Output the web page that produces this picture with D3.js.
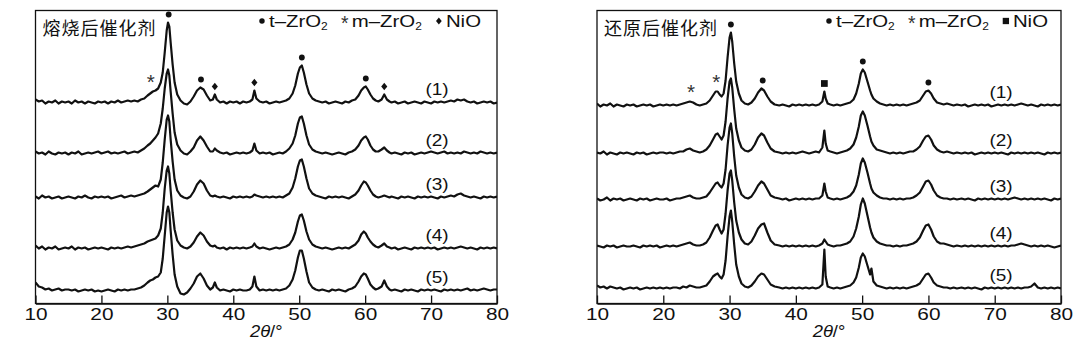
<!DOCTYPE html>
<html><head><meta charset="utf-8">
<script src="https://cdn.jsdelivr.net/npm/d3@7"></script>
<style>body{margin:0;background:#fff}svg{display:block}</style>
</head><body><svg id="c" width="1078" height="348"></svg>
<script>
// ---------- data (2θ grid and intensities above each pattern's baseline, a.u.) ----------
const anglesLeft = [
10,10.5,11,11.5,12,12.5,13,13.5,14,14.5,
15,15.5,16,16.5,17,17.5,18,18.5,19,19.5,
20,20.5,21,21.5,22,22.5,23,23.5,24,24.5,
25,25.5,26,26.5,27,27.4,27.8,28.2,28.6,29,
29.3,29.6,29.9,30.1,30.3,30.5,30.8,31.1,31.5,32,
32.5,33,33.5,34,34.5,35,35.5,36,36.5,36.9,
37.2,37.5,38,38.5,39,39.5,40,40.5,41,41.5,
42,42.5,42.9,43.2,43.5,44,44.5,45,45.5,46,
46.5,47,47.5,48,48.5,49,49.4,49.8,50.1,50.4,
50.7,51.1,51.5,52,52.5,53,53.5,54,54.5,55,
55.5,56,56.5,57,57.5,58,58.5,59,59.4,59.8,
60.1,60.4,60.8,61.2,61.6,62,62.5,62.9,63.3,63.7,
64,64.5,65,65.5,66,66.5,67,67.5,68,68.5,
69,69.5,70,70.5,71,71.5,72,72.5,73,73.5,
74,74.5,75,75.5,76,76.5,77,77.5,78,78.5,
79,79.5,80];
const calcined1 = [
3,1,2,-1,1,0,2,-1,1,0,
1,-1,2,0,1,-1,1,0,-1,1,
0,1,-1,1,0,2,0,1,2,1,
2,1,3,4,7,9,11,12,14,20,
30,50,72,80,76,60,38,20,8,2,
-1,-2,1,6,12,15,13,7,2,3,
8,3,0,1,-1,1,0,1,-1,1,
0,1,3,12,4,1,0,1,-1,0,
1,0,1,2,4,9,17,29,35,37,
30,18,9,4,2,1,0,1,-1,0,
1,0,-1,1,0,2,3,7,12,15,
16,13,8,4,2,1,3,8,3,1,
0,1,-1,0,1,-1,0,1,0,-1,
1,0,-1,1,0,1,0,1,2,1,
3,2,3,1,0,1,-1,0,1,0,
1,-1,0];
const calcined2 = [
2,0,1,-1,2,0,-1,1,0,1,
-1,1,0,2,-1,0,1,0,1,2,
0,1,2,0,1,0,1,2,0,1,
2,1,3,5,8,10,13,16,20,30,
45,65,80,84,78,62,40,21,9,3,
0,-1,2,6,13,17,13,7,2,2,
5,3,1,0,1,-1,0,1,0,1,
0,1,3,10,3,0,1,0,1,-1,
0,1,0,2,5,10,18,30,36,37,
30,18,9,4,2,1,0,1,0,-1,
0,1,0,-1,1,2,4,8,13,16,
17,14,8,4,2,2,4,6,3,1,
0,1,0,-1,1,0,1,-1,0,1,
0,1,2,1,0,1,2,0,1,0,
1,0,2,1,0,1,0,2,1,0,
1,0,1];
const calcined3 = [
1,-1,2,0,1,-1,0,1,-1,0,
1,0,-1,1,0,2,0,-1,1,0,
1,0,1,-1,0,1,2,0,1,2,
1,2,3,4,6,8,10,12,11,18,
35,58,78,82,76,58,36,18,7,2,
0,-1,1,6,13,17,14,7,2,1,
2,1,0,1,0,-1,1,0,1,0,
1,0,1,3,2,1,0,1,0,1,
0,1,0,2,4,10,19,31,37,38,
31,19,9,4,2,1,0,-1,1,0,
1,0,1,0,-1,1,3,7,12,16,
15,12,7,3,1,0,1,2,1,0,
1,0,-1,1,0,1,0,-1,1,0,
1,0,1,0,-1,1,0,1,2,1,
3,4,2,1,0,1,0,-1,1,0,
1,0,1];
const calcined4 = [
3,0,2,-1,1,0,2,-1,0,1,
0,2,-1,1,0,1,-1,0,1,0,
1,0,-1,1,0,1,0,1,2,1,
2,3,4,5,7,8,9,10,13,20,
36,60,78,82,75,58,36,19,8,3,
1,0,2,6,12,16,13,7,3,2,
3,1,0,1,-1,1,0,1,0,1,
0,1,2,5,2,0,1,0,-1,0,
1,0,1,2,4,9,16,27,33,34,
28,17,9,4,2,1,0,1,0,-1,
0,1,0,1,0,2,4,8,14,17,
15,11,7,4,2,1,3,5,2,1,
0,1,-1,0,1,0,-1,1,0,1,
0,1,0,1,-1,0,1,0,1,0,
1,2,1,0,1,0,-1,1,0,1,
0,1,0];
const calcined5 = [
8,4,3,1,2,0,1,2,0,1,
1,0,1,-1,0,1,0,1,-1,0,
-1,0,1,0,-1,1,0,1,0,1,
1,2,3,5,8,10,11,13,14,18,
32,55,78,84,78,60,36,16,4,-3,
-4,-2,2,7,14,17,12,5,1,3,
8,3,0,1,0,-1,1,0,1,0,
0,1,4,14,4,0,1,0,1,0,
1,0,1,2,5,11,20,33,40,40,
32,19,8,3,1,0,1,0,-1,1,
0,1,0,-1,1,2,4,9,14,17,
16,12,6,3,1,2,4,10,4,1,
0,1,0,-1,1,0,1,0,-1,1,
0,1,0,1,0,-1,1,0,1,0,
1,0,1,2,0,1,0,1,2,1,
0,1,1];

const anglesRight = [
10,10.5,11,11.5,12,12.5,13,13.5,14,14.5,
15,15.5,16,16.5,17,17.5,18,18.5,19,19.5,
20,20.5,21,21.5,22,22.5,23,23.5,24,24.5,
25,25.5,26,26.5,27,27.5,27.9,28.2,28.5,28.8,
29.1,29.4,29.7,30,30.2,30.4,30.7,31,31.4,31.8,
32.3,32.8,33.3,33.8,34.3,34.8,35.2,35.7,36.2,36.8,
37.5,38,38.5,39,39.5,40,40.5,41,41.5,42,
42.5,43,43.5,44,44.3,44.5,44.8,45.2,45.7,46.2,
46.7,47.2,47.7,48.2,48.7,49.1,49.5,49.8,50.1,50.4,
50.8,51.2,51.4,51.7,52.2,52.7,53.2,53.7,54.2,54.7,
55.2,55.7,56.2,56.7,57.2,57.7,58.2,58.7,59.2,59.6,
60,60.4,60.8,61.3,61.8,62.3,62.8,63.3,63.8,64.3,
65,65.5,66,66.5,67,67.5,68,68.5,69,69.5,
70,70.5,71,71.5,72,72.5,73,73.5,74,74.5,
75,75.5,76,76.5,77,77.5,78,78.5,79,79.5,
80];
const reduced1 = [
2,-1,1,0,2,-1,1,0,-1,1,
0,1,-1,0,1,0,1,-1,0,1,
0,1,0,1,0,1,2,3,4,3,
1,0,1,2,5,10,14,14,11,9,
12,25,48,68,73,64,42,24,12,5,
2,1,3,7,13,17,15,9,4,1,
0,1,0,-1,1,0,1,0,1,0,
1,0,1,4,14,7,2,1,0,1,
0,1,2,3,6,12,22,32,36,33,
24,15,11,7,4,2,1,0,1,0,
1,0,1,0,1,2,3,5,10,14,
15,12,7,3,2,1,2,1,0,1,
0,1,-1,0,1,0,1,0,1,-1,
0,1,0,1,0,1,0,1,2,1,
0,1,0,-1,1,0,1,0,1,0,
1];
const reduced2 = [
1,0,2,-1,1,0,-1,1,0,1,
0,-1,1,0,1,-1,0,1,0,1,
1,0,1,0,1,2,2,4,5,3,
2,1,2,4,8,14,19,20,17,14,
18,32,55,72,75,66,44,25,13,6,
3,2,4,9,16,20,18,11,5,2,
1,0,1,0,1,0,1,2,1,0,
1,2,1,6,23,10,3,2,1,0,
1,2,3,5,9,16,27,38,42,38,
28,17,12,8,4,3,2,1,0,1,
0,1,0,1,2,2,4,7,13,17,
18,14,8,4,2,1,2,1,0,1,
0,1,0,1,-1,0,1,0,1,0,
1,0,1,0,-1,1,0,1,0,1,
0,1,0,1,0,-1,1,0,1,0,
1];
const reduced3 = [
1,-1,0,2,-1,1,0,1,-1,0,
1,0,-1,1,0,1,-1,0,1,0,
0,1,-1,0,1,1,2,3,4,2,
1,1,2,3,7,12,16,17,14,12,
16,30,54,72,76,66,43,24,12,5,
2,1,3,8,14,18,16,10,4,2,
1,0,1,-1,0,1,0,1,0,1,
0,1,1,4,16,8,2,1,0,1,
0,1,2,4,8,14,25,36,41,37,
27,16,11,7,4,2,1,1,0,1,
0,1,0,1,1,2,4,7,13,18,
19,15,9,4,2,1,1,0,1,0,
1,0,1,0,-1,1,0,1,0,1,
0,1,0,1,0,1,2,1,0,1,
0,1,0,1,0,1,0,-1,1,0,
1];
const reduced4 = [
1,0,-1,1,0,1,-1,0,1,0,
0,1,0,-1,1,0,1,0,1,-1,
0,1,0,1,0,1,2,3,4,2,
1,1,2,4,9,16,21,22,17,13,
17,33,56,73,76,66,44,26,14,7,
3,2,5,11,18,22,23,14,6,2,
1,0,1,0,1,0,1,0,1,0,
1,0,1,3,7,5,2,1,0,1,
1,2,3,5,10,18,30,42,48,43,
31,19,14,9,5,3,2,1,1,0,
1,0,1,1,2,3,5,9,16,21,
22,17,10,5,3,3,2,1,0,1,
0,1,0,1,0,1,0,1,0,1,
0,1,0,1,0,1,1,2,3,2,
1,0,1,0,1,0,1,0,-1,0,
1];
const reduced5 = [
3,1,2,0,2,1,0,1,-1,0,
1,0,1,-1,0,1,0,1,0,1,
0,1,0,1,1,0,2,1,3,2,
1,1,2,3,7,12,14,15,12,10,
14,28,52,72,78,67,44,24,12,5,
2,1,3,7,12,15,14,9,4,2,
1,0,1,0,1,0,1,0,1,0,
1,0,1,4,39,12,2,1,0,1,
0,1,2,3,6,11,21,31,35,32,
23,14,20,7,3,2,1,0,1,0,
1,0,1,0,1,2,3,5,10,14,
15,11,6,3,2,1,1,0,1,0,
1,0,1,0,1,0,-1,1,0,1,
0,1,0,1,0,1,0,1,0,1,
1,2,5,1,0,1,0,1,0,1,
0];

const sampleLabels = ["(1)","(2)","(3)","(4)","(5)"];
const xTicks = [10,20,30,40,50,60,70,80];
const stackLeft = [201,150,106,55,13];
const stackRight = [198,150,104,57,15];
const markersLeft = [[27.5,"star"],[30.2,"dot"],[35.1,"dot"],[37.2,"diamond"],[43.2,"diamond"],[50.4,"dot"],[60.1,"dot"],[62.9,"diamond"]];
const markersRight = [[24.2,"star"],[28.0,"star"],[30.2,"dot"],[35.0,"dot"],[44.3,"square"],[50.1,"dot"],[60.0,"dot"]];
const legendItems = [["dot","t–ZrO","2"],["star","m–ZrO","2"],["nio","NiO",""]];

// ---------- drawing ----------
const svg = d3.select("#c");
const TOP = 10.5, BOT = 303.5;
const ink = "#111";
const FONT = "'Liberation Sans', Arial, sans-serif";

const panels = [
  {x0:35.5, x1:497, angles:anglesLeft, series:[calcined1,calcined2,calcined3,calcined4,calcined5], stack:stackLeft,
   title:"熔烧后催化剂", markers:markersLeft, nio:"diamond", legendEnd:481, labelX:437},
  {x0:597, x1:1061, angles:anglesRight, series:[reduced1,reduced2,reduced3,reduced4,reduced5], stack:stackRight,
   title:"还原后催化剂", markers:markersRight, nio:"square", legendEnd:1048, labelX:1001}
];

function drawMarker(g, type, cx, cy, size) {
  if (type === "dot") {
    g.append("circle").attr("cx", cx).attr("cy", cy).attr("r", size*0.65).attr("fill", ink);
  } else if (type === "diamond") {
    const s = size*0.85;
    g.append("path").attr("d", `M${cx},${cy-s}L${cx+s*0.8},${cy}L${cx},${cy+s}L${cx-s*0.8},${cy}Z`).attr("fill", ink);
  } else if (type === "square") {
    const s = size*0.75;
    g.append("rect").attr("x", cx-s).attr("y", cy-s).attr("width", 2*s).attr("height", 2*s).attr("fill", ink);
  } else if (type === "star") {
    g.append("text").attr("x", cx).attr("y", cy + size*2.2).attr("text-anchor","middle")
      .attr("font-family", FONT).attr("font-size", size*4.6).attr("fill", "#333").text("*");
  }
}

panels.forEach((p, pi) => {
  const x = d3.scaleLinear().domain([10, 80]).range([p.x0, p.x1]);
  const y = d3.scaleLinear().domain([0, 293]).range([BOT, TOP]);
  const g = svg.append("g");
  const clipId = "clip" + pi;
  svg.append("clipPath").attr("id", clipId).append("rect")
    .attr("x", p.x0).attr("y", TOP).attr("width", p.x1 - p.x0).attr("height", BOT - TOP);

  // patterns
  p.series.forEach((vals, si) => {
    const n = Math.min(vals.length, p.angles.length);
    const pts = d3.range(n).map(i => [p.angles[i], vals[i] + p.stack[si]]);
    const line = d3.line().x(d => x(d[0])).y(d => y(d[1]));
    g.append("path").attr("d", line(pts)).attr("fill", "none").attr("stroke", ink)
      .attr("stroke-width", 2.2).attr("stroke-linejoin", "round").attr("clip-path", `url(#${clipId})`);
    g.append("text").attr("font-family", FONT).attr("font-size", 17).attr("fill", ink)
      .attr("text-anchor", "middle")
      .attr("transform", `translate(${p.labelX},${y(p.stack[si]) - 8}) scale(1.12,1)`).text(sampleLabels[si]);
  });

  // phase markers above pattern (1)
  const top1 = p.series[0];
  p.markers.forEach(([a, type]) => {
    let m = -Infinity;
    p.angles.forEach((ang, i) => { if (Math.abs(ang - a) <= 0.6) m = Math.max(m, top1[i]); });
    const gap = type === "star" ? 12 : 8;
    drawMarker(g, type, x(a), y(m + p.stack[0]) - gap, 4.5);
  });

  // frame
  g.append("rect").attr("x", p.x0).attr("y", TOP).attr("width", p.x1 - p.x0).attr("height", BOT - TOP)
    .attr("fill", "none").attr("stroke", ink).attr("stroke-width", 1.3);

  // x axis
  const ax = g.append("g").attr("transform", `translate(0,${BOT})`)
    .call(d3.axisBottom(x).tickValues(xTicks).tickSizeInner(-8).tickSizeOuter(0).tickPadding(5).tickFormat(d3.format("d")));
  ax.select(".domain").attr("stroke", ink).attr("stroke-width", 1.3);
  ax.selectAll(".tick line").attr("stroke", ink).attr("stroke-width", 1.3);
  ax.selectAll(".tick text").attr("font-family", FONT).attr("font-size", 16).attr("fill", ink)
    .attr("y", 5).attr("dy", "0.71em").attr("transform", "scale(1.3,1)");

  // axis title 2θ/°
  const cx = (p.x0 + p.x1) / 2;
  const t = g.append("text").attr("font-family", FONT).attr("font-size", 16).attr("fill", ink)
    .attr("text-anchor", "middle").attr("transform", `translate(${cx},${337}) scale(1.15,1)`);
  t.append("tspan").attr("font-style", "italic").text("2θ");
  t.append("tspan").text("/°");

  // panel title
  g.append("text").attr("x", p.x0 + 7).attr("y", 35).attr("font-family", "'Noto Sans CJK SC', sans-serif")
    .attr("font-size", 18).attr("letter-spacing", 1).attr("fill", ink).text(p.title);

  // legend (right-aligned row)
  const lg = g.append("g");
  let cur = p.legendEnd;
  const sx = 1.2;
  legendItems.slice().reverse().forEach(([sym, main, sub]) => {
    const tx = lg.append("text").attr("font-family", FONT).attr("font-size", 17).attr("fill", ink)
      .attr("text-anchor", "end").attr("transform", `translate(${cur},27) scale(${sx},1)`);
    tx.append("tspan").text(main);
    if (sub) tx.append("tspan").attr("font-size", 10).attr("dy", 3).text(sub);
    const w = tx.node().getComputedTextLength() * sx;
    const type = sym === "nio" ? p.nio : sym;
    drawMarker(lg, type, cur - w - 7, 21, 4.2);
    cur = cur - w - 24;
  });
});
</script>
</body></html>
